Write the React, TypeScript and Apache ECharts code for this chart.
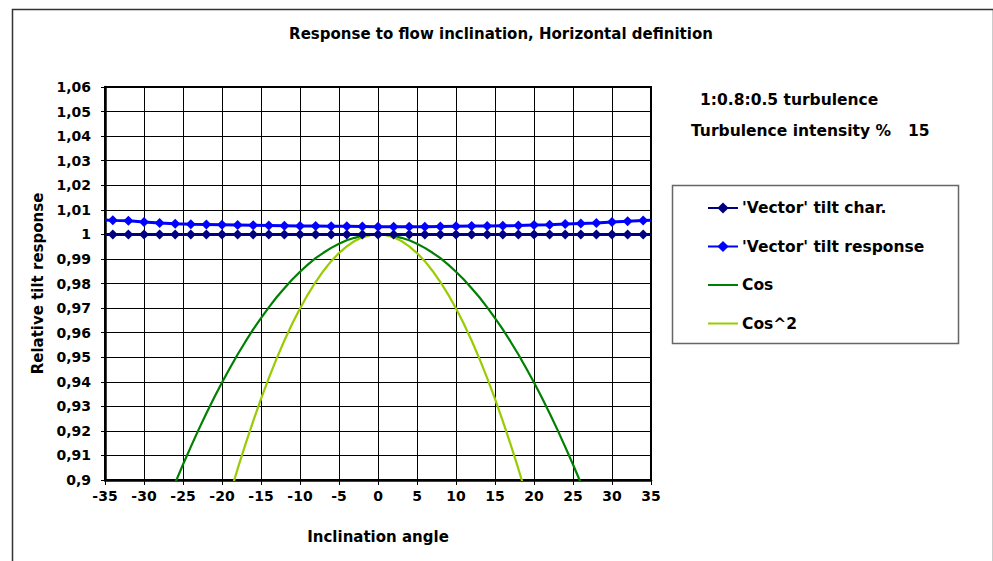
import React, { useEffect, useRef } from "react";
import * as echarts from "echarts";

const FONT = "'DejaVu Sans', Verdana, sans-serif";

const xTicks = [-35, -30, -25, -20, -15, -10, -5, 0, 5, 10, 15, 20, 25, 30, 35];
const markerX = [-34, -32, -30, -28, -26, -24, -22, -20, -18, -16, -14, -12, -10, -8, -6, -4, -2, 0, 2, 4, 6, 8, 10, 12, 14, 16, 18, 20, 22, 24, 26, 28, 30, 32, 34];
const tiltChar = [1, 1, 1, 1, 1, 1, 1, 1, 1, 1, 1, 1, 1, 1, 1, 1, 1, 1, 1, 1, 1, 1, 1, 1, 1, 1, 1, 1, 1, 1, 1, 1, 1, 1, 1];
const tiltResp = [1.0057, 1.0055, 1.005, 1.0046, 1.0043, 1.0041, 1.004, 1.0039, 1.0038, 1.0037, 1.0036, 1.0035, 1.0034, 1.0034, 1.0033, 1.0033, 1.0032, 1.0031, 1.0031, 1.0031, 1.0031, 1.0032, 1.0033, 1.0034, 1.0034, 1.0035, 1.0036, 1.0038, 1.0039, 1.0042, 1.0044, 1.0046, 1.005, 1.0053, 1.0056];
const edgeX = [-35, 35];
const tiltCharEdge = [1, 1];
const tiltRespEdge = [1.0059, 1.0058];

const cosX = [-28, -27, -26, -25, -24, -23, -22, -21, -20, -19, -18, -17, -16, -15, -14, -13, -12, -11, -10, -9, -8, -7, -6, -5, -4, -3, -2, -1, 0, 1, 2, 3, 4, 5, 6, 7, 8, 9, 10, 11, 12, 13, 14, 15, 16, 17, 18, 19, 20, 21, 22, 23, 24, 25, 26, 27, 28];
const cosVals = [0.8829, 0.891, 0.8988, 0.9063, 0.9135, 0.9205, 0.9272, 0.9336, 0.9397, 0.9455, 0.9511, 0.9563, 0.9613, 0.9659, 0.9703, 0.9744, 0.9781, 0.9816, 0.9848, 0.9877, 0.9903, 0.9925, 0.9945, 0.9962, 0.9976, 0.9986, 0.9994, 0.9998, 1.0, 0.9998, 0.9994, 0.9986, 0.9976, 0.9962, 0.9945, 0.9925, 0.9903, 0.9877, 0.9848, 0.9816, 0.9781, 0.9744, 0.9703, 0.9659, 0.9613, 0.9563, 0.9511, 0.9455, 0.9397, 0.9336, 0.9272, 0.9205, 0.9135, 0.9063, 0.8988, 0.891, 0.8829];
const cos2X = [-20, -19, -18, -17, -16, -15, -14, -13, -12, -11, -10, -9, -8, -7, -6, -5, -4, -3, -2, -1, 0, 1, 2, 3, 4, 5, 6, 7, 8, 9, 10, 11, 12, 13, 14, 15, 16, 17, 18, 19, 20];
const cos2Vals = [0.883, 0.894, 0.9045, 0.9145, 0.924, 0.933, 0.9415, 0.9494, 0.9568, 0.9636, 0.9698, 0.9755, 0.9806, 0.9851, 0.9891, 0.9924, 0.9951, 0.9973, 0.9988, 0.9997, 1.0, 0.9997, 0.9988, 0.9973, 0.9951, 0.9924, 0.9891, 0.9851, 0.9806, 0.9755, 0.9698, 0.9636, 0.9568, 0.9494, 0.9415, 0.933, 0.924, 0.9145, 0.9045, 0.894, 0.883];

const seriesNames = ["'Vector' tilt char.", "'Vector' tilt response", "Cos", "Cos^2"];
const titleText = "Response to flow inclination, Horizontal definition";
const xName = "Inclination angle";
const yName = "Relative tilt response";
const note1 = "1:0.8:0.5 turbulence";
const note2 = "Turbulence intensity %";
const note2Value = "15";

function withEdges(xs: number[], ys: number[], ex: number[], ey: number[]) {
  const pts: any[] = xs.map((x, i) => [x, ys[i]]);
  const first = { value: [ex[0], ey[0]], symbol: "none" };
  const last = { value: [ex[1], ey[1]], symbol: "none" };
  return [first, ...pts, last];
}

export default function App() {
  const ref = useRef<HTMLDivElement>(null);
  useEffect(() => {
    if (!ref.current) return;
    const chart = echarts.init(ref.current, null, { renderer: "svg" });
    const boldText = { fontFamily: FONT, fontWeight: "bold" as const, color: "#000" };
    chart.setOption({
      animation: false,
      backgroundColor: "#fff",
      grid: { left: 105, top: 87, width: 546, height: 393, show: true, borderColor: "#000", borderWidth: 2, backgroundColor: "transparent" },
      legend: {
        orient: "vertical",
        left: 707,
        top: 200,
        padding: 0,
        itemWidth: 30,
        itemHeight: 14,
        itemGap: 22.5,
        data: [
          { name: seriesNames[0] },
          { name: seriesNames[1] },
          { name: seriesNames[2], itemStyle: { opacity: 0 } },
          { name: seriesNames[3], itemStyle: { opacity: 0 } },
        ],
        textStyle: { ...boldText, fontSize: 15.5, padding: [0, 0, 0, -1] },
      },
      xAxis: {
        type: "value",
        min: -35,
        max: 35,
        interval: 5,
        name: xName,
        nameLocation: "middle",
        nameGap: 49,
        nameTextStyle: { ...boldText, fontSize: 15 },
        axisLine: { show: true, onZero: false, lineStyle: { color: "#000", width: 2.5 } },
        axisTick: { show: true, inside: false, length: 5, lineStyle: { color: "#000", width: 1 } },
        axisLabel: { ...boldText, fontSize: 14, margin: 9, formatter: (v: number) => (xTicks.includes(v) ? String(v) : "") },
        splitLine: { show: true, lineStyle: { color: "#000", width: 1 } },
      },
      yAxis: {
        type: "value",
        min: 0.9,
        max: 1.06,
        interval: 0.01,
        name: yName,
        nameLocation: "middle",
        nameGap: 60,
        nameTextStyle: { ...boldText, fontSize: 15 },
        axisLine: { show: true, onZero: false, lineStyle: { color: "#000", width: 2.5 } },
        axisTick: { show: true, inside: false, length: 4, lineStyle: { color: "#000", width: 1 } },
        axisLabel: {
          ...boldText,
          fontSize: 14,
          margin: 14,
          formatter: (v: number) => String(Math.round(v * 100) / 100).replace(".", ","),
        },
        splitLine: { show: true, lineStyle: { color: "#000", width: 1 } },
      },
      series: [
        {
          name: seriesNames[2],
          type: "line",
          data: cosX.map((x, i) => [x, cosVals[i]]),
          symbol: "none",
          smooth: false,
          clip: true,
          lineStyle: { color: "#008000", width: 2.2 },
          itemStyle: { color: "#008000" },
          z: 2,
        },
        {
          name: seriesNames[3],
          type: "line",
          data: cos2X.map((x, i) => [x, cos2Vals[i]]),
          symbol: "none",
          smooth: false,
          clip: true,
          lineStyle: { color: "#99CC00", width: 2.2 },
          itemStyle: { color: "#99CC00" },
          z: 2,
        },
        {
          name: seriesNames[0],
          type: "line",
          data: withEdges(markerX, tiltChar, edgeX, tiltCharEdge),
          symbol: "diamond",
          symbolSize: 10,
          showAllSymbol: true,
          clip: false,
          lineStyle: { color: "#000080", width: 3 },
          itemStyle: { color: "#000080" },
          z: 3,
        },
        {
          name: seriesNames[1],
          type: "line",
          data: withEdges(markerX, tiltResp, edgeX, tiltRespEdge),
          symbol: "diamond",
          symbolSize: 10,
          showAllSymbol: true,
          clip: false,
          lineStyle: { color: "#0000FF", width: 3 },
          itemStyle: { color: "#0000FF" },
          z: 4,
        },
      ],
      graphic: [
        { type: "rect", left: 10, top: 7, shape: { x: 0, y: 0, width: 981, height: 600 }, style: { fill: "none", stroke: "#333", lineWidth: 1.5 }, silent: true, z: 0 },
        { type: "rect", shape: { x: 672.5, y: 185.5, width: 286, height: 158 }, style: { fill: "none", stroke: "#666", lineWidth: 1.5 }, silent: true },
        { type: "text", x: 501, y: 34, style: { text: titleText, font: `bold 15px ${FONT}`, fill: "#000", textAlign: "center", textVerticalAlign: "middle" } },
        { type: "text", x: 700, y: 100, style: { text: note1, font: `bold 15.5px ${FONT}`, fill: "#000", textAlign: "left", textVerticalAlign: "middle" } },
        { type: "text", x: 691, y: 131, style: { text: note2, font: `bold 15.5px ${FONT}`, fill: "#000", textAlign: "left", textVerticalAlign: "middle" } },
        { type: "text", x: 908, y: 131, style: { text: note2Value, font: `bold 15.5px ${FONT}`, fill: "#000", textAlign: "left", textVerticalAlign: "middle" } },
      ],
    });
    return () => chart.dispose();
  }, []);
  return <div ref={ref} style={{ position: "fixed", left: 0, top: 0, width: 993, height: 561 }} />;
}
